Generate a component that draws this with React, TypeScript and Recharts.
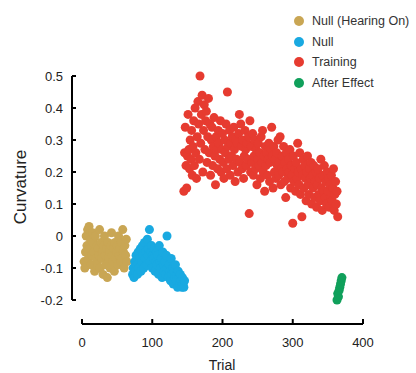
import { ScatterChart, Scatter, XAxis, YAxis, ZAxis, Legend } from 'recharts';

// one value per trial, trials are consecutive from each start
const HEARING_ON_START = 3;
const HEARING_ON = [
  -0.08, -0.1, -0.05, 0.0, -0.03, 0.02, -0.07, 0.03, -0.04, -0.01,
  -0.09, -0.06, 0.01, -0.02, -0.05, -0.11, 0.0, -0.07, -0.03, -0.09,
  -0.04, -0.06, 0.02, -0.1, -0.02, -0.07, -0.05, -0.12, -0.03, 0.0,
  -0.06, -0.09, -0.04, -0.13, -0.02, -0.07, -0.05, -0.1, -0.03, 0.01,
  -0.06, -0.08, -0.04, -0.11, -0.02, -0.07, -0.05, -0.03, -0.09, 0.0,
  -0.06, -0.04, -0.08, -0.02, -0.07, 0.02, -0.05, -0.1, -0.03, -0.06,
  -0.01, -0.08,
];

const NULL_START = 72;
const NULL_VALUES = [
  -0.12, -0.1, -0.13, -0.08, -0.11, -0.06, -0.09, -0.12, -0.05, -0.1,
  -0.07, -0.04, -0.11, -0.08, -0.03, -0.06, -0.1, -0.02, -0.07, -0.05,
  -0.09, -0.01, -0.06, -0.04, 0.02, -0.08, -0.05, -0.03, -0.1, -0.06,
  -0.07, -0.04, -0.11, -0.08, -0.05, -0.09, -0.06, -0.12, -0.03, -0.08,
  -0.1, -0.07, -0.13, -0.05, -0.09, -0.11, -0.08, -0.12, -0.06, 0.0,
  -0.1, -0.13, -0.09, -0.11, -0.14, -0.07, -0.12, -0.1, -0.15, -0.11,
  -0.13, -0.09, -0.14, -0.12, -0.16, -0.11, -0.13, -0.15, -0.12, -0.14,
  -0.16, -0.13, -0.15, -0.16, -0.14,
];

const TRAINING_START = 145;
const TRAINING = [
  0.14, 0.26, 0.34, 0.22, 0.15, 0.25, 0.38, 0.27, 0.21, 0.3,
  0.24, 0.33, 0.19, 0.28, 0.36, 0.22, 0.4, 0.26, 0.18, 0.31,
  0.42, 0.35, 0.24, 0.5, 0.29, 0.38, 0.44, 0.2, 0.33, 0.41,
  0.27, 0.36, 0.39, 0.23, 0.31, 0.43, 0.26, 0.35, 0.19, 0.3,
  0.34, 0.22, 0.28, 0.37, 0.25, 0.16, 0.31, 0.27, 0.21, 0.33,
  0.29, 0.24, 0.36, 0.2, 0.27, 0.32, 0.23, 0.18, 0.3, 0.26,
  0.35, 0.21, 0.45, 0.28, 0.24, 0.33, 0.19, 0.29, 0.25, 0.31,
  0.22, 0.34, 0.27, 0.17, 0.3, 0.24, 0.29, 0.2, 0.32, 0.38,
  0.23, 0.35, 0.28, 0.21, 0.3, 0.18, 0.25, 0.33, 0.27, 0.22,
  0.29, 0.24, 0.31, 0.07, 0.36, 0.2, 0.28, 0.23, 0.32, 0.19,
  0.25, 0.3, 0.21, 0.27, 0.16, 0.24, 0.29, 0.22, 0.26, 0.18,
  0.31, 0.23, 0.33, 0.2, 0.25, 0.14, 0.28, 0.22, 0.26, 0.19,
  0.24, 0.29, 0.17, 0.23, 0.27, 0.34, 0.25, 0.15, 0.28, 0.2,
  0.24, 0.18, 0.26, 0.22, 0.3, 0.19, 0.23, 0.31, 0.16, 0.21,
  0.25, 0.2, 0.28, 0.17, 0.23, 0.12, 0.26, 0.21, 0.18, 0.24,
  0.2, 0.27, 0.15, 0.22, 0.19, 0.04, 0.25, 0.17, 0.21, 0.14,
  0.23, 0.18, 0.29, 0.2, 0.16, 0.26, 0.13, 0.21, 0.06, 0.19,
  0.24, 0.15, 0.22, 0.18, 0.11, 0.2, 0.25, 0.16, 0.13, 0.21,
  0.18, 0.23, 0.1, 0.19, 0.15, 0.22, 0.12, 0.17, 0.2, 0.09,
  0.16, 0.21, 0.13, 0.18, 0.11, 0.24, 0.15, 0.08, 0.19, 0.14,
  0.22, 0.12, 0.17, 0.1, 0.2, 0.14, 0.18, 0.09, 0.16, 0.12,
  0.19, 0.11, 0.15, 0.21, 0.08, 0.13, 0.17, 0.1, 0.14, 0.06,
];

const AFTER_START = 363;
const AFTER_EFFECT = [-0.2, -0.18, -0.19, -0.17, -0.16, -0.15, -0.14, -0.13];

const X_TICKS = [0, 100, 200, 300, 400];
const Y_TICKS = [-0.2, -0.1, 0, 0.1, 0.2, 0.3, 0.4, 0.5];

const FONT = "Helvetica, Arial, 'Liberation Sans', sans-serif";
const AXIS = '#000';

const toPoints = (start: number, values: number[]) =>
  values.map((v, i) => ({ trial: start + i, curvature: v }));

const SERIES = [
  { name: 'Null (Hearing On)', color: '#C9A654', data: toPoints(HEARING_ON_START, HEARING_ON) },
  { name: 'Null', color: '#19A9E1', data: toPoints(NULL_START, NULL_VALUES) },
  { name: 'Training', color: '#E63B30', data: toPoints(TRAINING_START, TRAINING) },
  { name: 'After Effect', color: '#10A05B', data: toPoints(AFTER_START, AFTER_EFFECT) },
];

// axes are detached from the plot (y axis 10px left, x axis 24px down), ticks point inward
function YTick(props: any) {
  const { x, y, payload } = props;
  return (
    <g>
      <line x1={x - 10} x2={x - 6} y1={y} y2={y} stroke={AXIS} strokeWidth={2} />
      <text x={x - 19} y={y} dy="0.36em" textAnchor="end" fill="#222" fontSize={13} fontFamily={FONT}>
        {payload.value}
      </text>
    </g>
  );
}

function XTick(props: any) {
  const { x, y, payload } = props;
  return (
    <g>
      <line x1={x} x2={x} y1={y + 19} y2={y + 24} stroke={AXIS} strokeWidth={2} />
      <text x={x} y={y + 38} dy="0.72em" textAnchor="middle" fill="#222" fontSize={13} fontFamily={FONT}>
        {payload.value}
      </text>
    </g>
  );
}

function LegendBox() {
  return (
    <div style={{ fontFamily: FONT, fontSize: 12.5, color: '#333' }}>
      {SERIES.map((s) => (
        <div key={s.name} style={{ display: 'flex', alignItems: 'center', height: 20.5 }}>
          <span
            style={{
              width: 10,
              height: 10,
              borderRadius: 5,
              background: s.color,
              display: 'inline-block',
              marginRight: 8,
            }}
          />
          {s.name}
        </div>
      ))}
    </div>
  );
}

export default function App() {
  return (
    <div style={{ position: 'absolute', left: 0, top: 0 }}>
      <ScatterChart width={416} height={373} margin={{ top: 76, right: 53, bottom: 13, left: 20 }}>
        <XAxis
          type="number"
          dataKey="trial"
          domain={[0, 400]}
          ticks={X_TICKS}
          axisLine={{ stroke: AXIS, strokeWidth: 2, transform: 'translate(0 24)' }}
          tickLine={false}
          tickSize={0}
          tickMargin={0}
          height={60}
          tick={<XTick />}
          label={{
            content: () => (
              <text x={222} y={370} textAnchor="middle" fill="#222" fontSize={14} fontFamily={FONT}>
                Trial
              </text>
            ),
          }}
        />
        <YAxis
          type="number"
          dataKey="curvature"
          domain={[-0.2, 0.5]}
          ticks={Y_TICKS}
          axisLine={{ stroke: AXIS, strokeWidth: 2, transform: 'translate(-10 0)' }}
          tickLine={false}
          tickSize={0}
          tickMargin={0}
          width={62}
          tick={<YTick />}
          label={{
            content: () => (
              <text
                x={26}
                y={187}
                transform="rotate(-90 26 187)"
                textAnchor="middle"
                fill="#222"
                fontSize={17}
                fontFamily={FONT}
              >
                Curvature
              </text>
            ),
          }}
        />
        <ZAxis range={[32, 32]} />
        {SERIES.map((s) => (
          <Scatter
            key={s.name}
            name={s.name}
            data={s.data}
            fill={s.color}
            shape="circle"
            isAnimationActive={false}
          />
        ))}
        <Legend
          layout="vertical"
          align="center"
          verticalAlign="middle"
          wrapperStyle={{ left: 294, top: 11, width: 122 }}
          content={() => <LegendBox />}
        />
      </ScatterChart>
    </div>
  );
}
